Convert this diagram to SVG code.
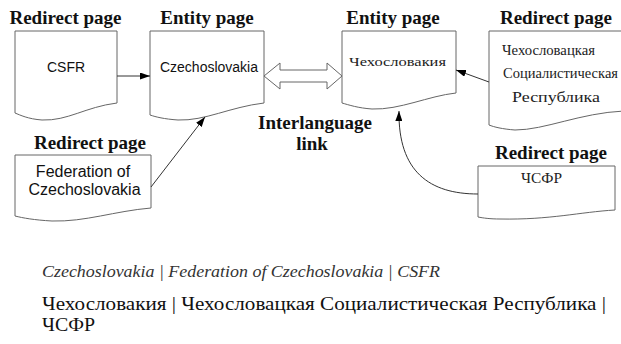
<svg xmlns="http://www.w3.org/2000/svg" width="621" height="344" viewBox="0 0 621 344">
<style>
.doc{fill:#fff;stroke:#666;stroke-width:1}
.hdr{font-family:"Liberation Serif","Times New Roman",serif;font-weight:bold;font-size:19px;fill:#111;text-anchor:middle}
.sans{font-family:"Liberation Sans",Arial,sans-serif;fill:#111;text-anchor:middle}
.ser{font-family:"Liberation Serif","Times New Roman",serif;fill:#222;text-anchor:middle}
.conn{fill:none;stroke:#333;stroke-width:1}
</style>
<defs>
<marker id="ah" markerWidth="10" markerHeight="7" refX="10" refY="3.5" orient="auto" markerUnits="userSpaceOnUse">
<path d="M0,0 L10,3.5 L0,7 z" fill="#000"/>
</marker>
</defs>
<rect width="621" height="344" fill="#fff"/>
<g id="csfr">
<text class="hdr" x="65.5" y="24">Redirect page</text>
<path class="doc" d="M15,31 H117 V103 C85,107 68,121 42,120 C28,119 20,115 15,113 Z"/>
<text class="sans" x="66" y="72" font-size="14">CSFR</text>
</g>
<g id="entity-en">
<text class="hdr" x="207" y="24">Entity page</text>
<path class="doc" d="M150,31 H264 V103 C230,107 205,121 178,120 C164,119 156,117 150,115 Z"/>
<text class="sans" x="209" y="72" font-size="14">Czechoslovakia</text>
</g>
<g id="entity-ru">
<text class="hdr" x="393" y="24">Entity page</text>
<path class="doc" d="M342,31 H456 V93 C428,96 400,110 372,109 C358,108 349,105 342,103 Z"/>
<text class="ser" x="397.5" y="66" font-size="13" textLength="97" lengthAdjust="spacingAndGlyphs">Чехословакия</text>
</g>
<g id="redirect-ru-long">
<text class="hdr" x="556" y="24">Redirect page</text>
<path class="doc" d="M489,31 H624 V111 C580,113 545,130 515,130 C502,129 494,127 489,125 Z"/>
<text class="ser" x="548.5" y="55" font-size="14" textLength="93" lengthAdjust="spacingAndGlyphs">Чехословацкая</text>
<text class="ser" x="560.5" y="78" font-size="14" textLength="115" lengthAdjust="spacingAndGlyphs">Социалистическая</text>
<text class="ser" x="556" y="102" font-size="14" textLength="88" lengthAdjust="spacingAndGlyphs">Республика</text>
</g>
<g id="federation">
<text class="hdr" x="90" y="149">Redirect page</text>
<path class="doc" d="M15,155 H151 V208 C115,211 85,222 52,221 C34,220 23,218 15,216 Z"/>
<text class="sans" x="83" y="177" font-size="16">Federation of</text>
<text class="sans" x="84.5" y="195" font-size="16">Czechoslovakia</text>
</g>
<g id="chsfr">
<text class="hdr" x="551" y="159">Redirect page</text>
<path class="doc" d="M478,166 H615 V210 C580,212 550,220 500,219 C490,219 483,218 478,217 Z"/>
<text class="ser" x="541.5" y="183" font-size="14" textLength="41" lengthAdjust="spacingAndGlyphs">ЧСФР</text>
</g>
<g id="connectors">
<path class="conn" d="M117,76 L150,76" marker-end="url(#ah)"/>
<path class="conn" d="M151,187 L205,117" marker-end="url(#ah)"/>
<path class="conn" d="M489,82 L456,70" marker-end="url(#ah)"/>
<path class="conn" d="M478,194 C430,194 398,172 399,111" marker-end="url(#ah)"/>
<polygon points="264,76 280,63 280,70 327,70 327,63 342,76 327,89 327,82 280,82 280,89" fill="#fff" stroke="#666" stroke-width="1"/>
</g>
<g id="interlanguage-label">
<text class="hdr" x="315" y="129">Interlanguage</text>
<text class="hdr" x="312" y="150">link</text>
</g>
<g id="caption">
<text x="42" y="277" font-family="'Liberation Serif','Times New Roman',serif" font-style="italic" font-size="16" fill="#333" textLength="398" lengthAdjust="spacingAndGlyphs">Czechoslovakia | Federation of Czechoslovakia | CSFR</text>
<text x="42" y="310" font-family="'Liberation Serif','Times New Roman',serif" font-size="18" fill="#111" textLength="564" lengthAdjust="spacingAndGlyphs">Чехословакия | Чехословацкая Социалистическая Республика |</text>
<text x="42" y="331" font-family="'Liberation Serif','Times New Roman',serif" font-size="18" fill="#111" textLength="53" lengthAdjust="spacingAndGlyphs">ЧСФР</text>
</g>
</svg>
